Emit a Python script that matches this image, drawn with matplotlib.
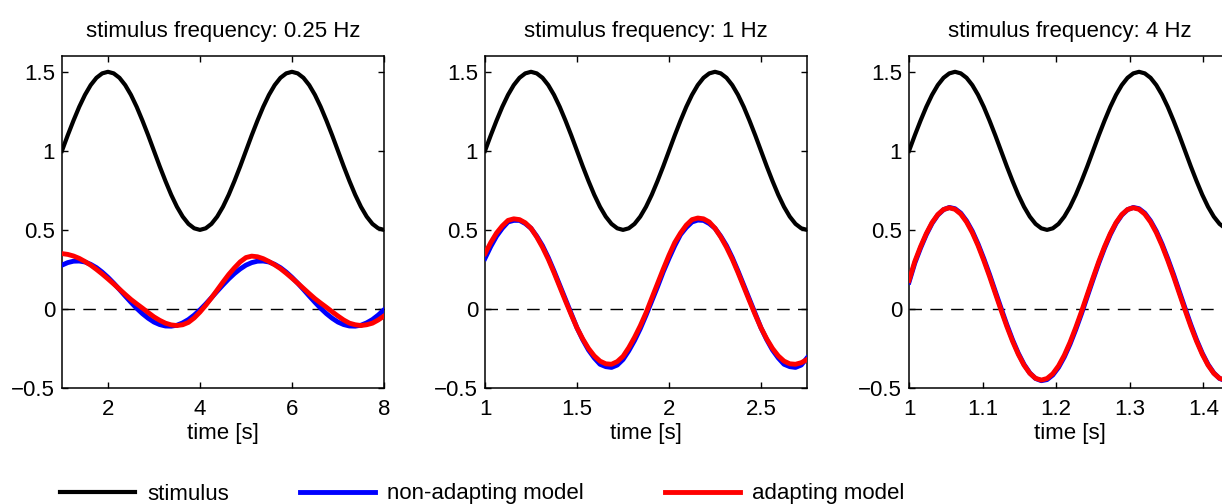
import matplotlib
matplotlib.use('Agg')
import matplotlib.pyplot as plt
import numpy as np

plt.rcParams['font.family'] = ['Liberation Sans', 'DejaVu Sans']
plt.rcParams['font.size'] = 16
plt.rcParams['axes.titlesize'] = 16

# values, 32 samples per stimulus period (1.75 periods shown)
stimulus = [1.0, 1.098, 1.191, 1.278, 1.354, 1.416, 1.462, 1.490, 1.5, 1.490, 1.462, 1.416,
            1.354, 1.278, 1.191, 1.098, 1.0, 0.902, 0.809, 0.722, 0.646, 0.584, 0.538, 0.510,
            0.5, 0.510, 0.538, 0.584, 0.646, 0.722, 0.809, 0.902,
            1.0, 1.098, 1.191, 1.278, 1.354, 1.416, 1.462, 1.490, 1.5, 1.490, 1.462, 1.416,
            1.354, 1.278, 1.191, 1.098, 1.0, 0.902, 0.809, 0.722, 0.646, 0.584, 0.538, 0.510,
            0.5]

# 0.25 Hz
nonadapt_1 = [0.277, 0.293, 0.302, 0.303, 0.297, 0.282, 0.261, 0.233, 0.200, 0.163, 0.123,
              0.082, 0.042, 0.004, -0.030, -0.059, -0.083, -0.099, -0.108, -0.109, -0.103,
              -0.088, -0.067, -0.039, -0.006, 0.031, 0.071, 0.112, 0.152, 0.190, 0.224, 0.253,
              0.277, 0.293, 0.302, 0.303, 0.297, 0.282, 0.261, 0.233, 0.200, 0.163, 0.123,
              0.082, 0.042, 0.004, -0.030, -0.059, -0.083, -0.099, -0.108, -0.109, -0.103,
              -0.088, -0.067, -0.039, -0.006]
adapt_1 = [0.35, 0.345, 0.335, 0.32, 0.30, 0.277, 0.25, 0.221, 0.19, 0.158, 0.125, 0.092, 0.06,
           0.032, 0.005, -0.023, -0.05, -0.072, -0.09, -0.101, -0.105, -0.1, -0.085, -0.057,
           -0.02, 0.023, 0.07, 0.12, 0.17, 0.218, 0.26, 0.298, 0.325, 0.334, 0.33, 0.318, 0.30,
           0.279, 0.255, 0.226, 0.195, 0.163, 0.13, 0.097, 0.065, 0.037, 0.01, -0.018, -0.045,
           -0.07, -0.09, -0.1, -0.105, -0.1, -0.09, -0.07, -0.045]

# 1 Hz
nonadapt_2 = [0.32, 0.395, 0.46, 0.51, 0.55, 0.56, 0.56, 0.54, 0.51, 0.46, 0.40, 0.325, 0.24,
              0.15, 0.06, -0.03, -0.12, -0.195, -0.26, -0.31, -0.35, -0.365, -0.37, -0.355,
              -0.32, -0.265, -0.20, -0.125, -0.04, 0.05, 0.14, 0.235, 0.32, 0.40, 0.47, 0.515,
              0.55, 0.562, 0.56, 0.54, 0.51, 0.46, 0.40, 0.325, 0.24, 0.15, 0.06, -0.03, -0.12,
              -0.195, -0.26, -0.31, -0.35, -0.365, -0.37, -0.355, -0.31]
adapt_2 = [0.35, 0.42, 0.48, 0.525, 0.56, 0.57, 0.565, 0.545, 0.51, 0.455, 0.39, 0.315, 0.23,
           0.14, 0.05, -0.037, -0.12, -0.19, -0.25, -0.297, -0.33, -0.347, -0.35, -0.333, -0.30,
           -0.245, -0.18, -0.107, -0.025, 0.068, 0.16, 0.252, 0.34, 0.42, 0.48, 0.53, 0.565,
           0.575, 0.57, 0.55, 0.51, 0.455, 0.39, 0.315, 0.23, 0.14, 0.05, -0.037, -0.12, -0.19,
           -0.25, -0.297, -0.33, -0.347, -0.35, -0.34, -0.32]

# 4 Hz
nonadapt_3 = [0.17, 0.29, 0.385, 0.47, 0.541, 0.594, 0.628, 0.642, 0.634, 0.606, 0.557, 0.492,
              0.411, 0.318, 0.218, 0.111, 0.005, -0.099, -0.195, -0.28, -0.351, -0.405, -0.44,
              -0.454, -0.447, -0.418, -0.37, -0.304, -0.223, -0.13, -0.029, 0.079,
              0.186, 0.29, 0.385, 0.47, 0.541, 0.594, 0.628, 0.642, 0.634, 0.606, 0.557, 0.492,
              0.411, 0.318, 0.218, 0.111, 0.005, -0.099, -0.195, -0.28, -0.351, -0.405, -0.44,
              -0.454, -0.447]
adapt_3 = [0.18, 0.30, 0.394, 0.477, 0.546, 0.597, 0.629, 0.640, 0.630, 0.600, 0.550, 0.483,
           0.401, 0.307, 0.206, 0.099, -0.007, -0.110, -0.204, -0.287, -0.356, -0.407, -0.439,
           -0.450, -0.440, -0.410, -0.360, -0.293, -0.211, -0.117, -0.016, 0.091,
           0.197, 0.300, 0.394, 0.477, 0.546, 0.597, 0.629, 0.640, 0.630, 0.600, 0.550, 0.483,
           0.401, 0.307, 0.206, 0.099, -0.007, -0.110, -0.204, -0.287, -0.356, -0.407, -0.439,
           -0.450, -0.440]

freqs = ['0.25', '1', '4']
t_end = [8.0, 2.75, 1.4375]
xticks = [[2, 4, 6, 8], [1, 1.5, 2, 2.5], [1, 1.1, 1.2, 1.3, 1.4]]
xticklabels = [['2', '4', '6', '8'], ['1', '1.5', '2', '2.5'], ['1', '1.1', '1.2', '1.3', '1.4']]
yticks = [-0.5, 0, 0.5, 1, 1.5]
yticklabels = ['\u22120.5', '0', '0.5', '1', '1.5']
nonadapt = [nonadapt_1, nonadapt_2, nonadapt_3]
adapt = [adapt_1, adapt_2, adapt_3]

fig = plt.figure(figsize=(12.22, 5.04), dpi=100)
lefts = [0.0507, 0.3969, 0.7439]

for i in range(3):
    ax = fig.add_axes([lefts[i], 0.2302, 0.2635, 0.6587])
    t = np.linspace(1, t_end[i], len(stimulus))  # sample times
    ax.axhline(0, color='k', lw=1, dashes=(9, 6), zorder=1)
    l1, = ax.plot(t, stimulus, color='k', lw=3, label='stimulus', zorder=2)
    l2, = ax.plot(t, nonadapt[i], color='b', lw=3.5, label='non-adapting model', zorder=3)
    l3, = ax.plot(t, adapt[i], color='r', lw=3.5, label='adapting model', zorder=4)
    ax.set_xlim(1, t_end[i])
    ax.set_ylim(-0.5, 1.6)
    ax.set_xticks(xticks[i])
    ax.set_xticklabels(xticklabels[i])
    ax.set_yticks(yticks)
    ax.set_yticklabels(yticklabels)
    ax.tick_params(direction='in', top=True, right=True, length=4, width=1)
    ax.tick_params(axis='x', pad=8)
    ax.tick_params(axis='y', pad=5)
    for s in ax.spines.values():
        s.set_linewidth(1.1)
    ax.set_xlabel('time [s]', labelpad=2)
    ax.set_title(f'stimulus frequency: {freqs[i]} Hz', pad=13.5)

# one legend per entry so each sits where the reference puts it
legend_x = [60, 300, 665]
for h, x in zip([l1, l2, l3], legend_x):
    fig.legend(handles=[h], loc='center left', bbox_to_anchor=(x / 1222, 1 - 494 / 504),
               frameon=False, borderpad=0, handlelength=3.38, handletextpad=0.54,
               borderaxespad=0)

fig.savefig('out.png', dpi=100)
